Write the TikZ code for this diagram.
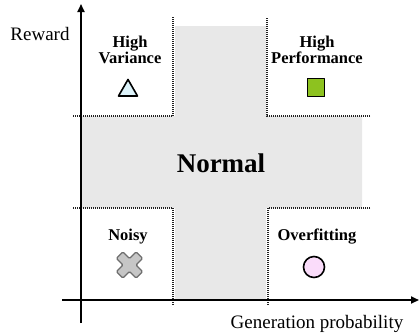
\documentclass[tikz,border=0pt]{standalone}
\usepackage{fontspec}
\setmainfont{Liberation Serif}
\usetikzlibrary{arrows.meta}
\definecolor{bggray}{HTML}{E8E8E8}
\definecolor{tricyan}{HTML}{DDF3FA}
\definecolor{sqgreen}{HTML}{8DC21F}
\definecolor{xfill}{HTML}{C6C6C6}
\definecolor{xedge}{HTML}{6E6E6E}
\definecolor{cpink}{HTML}{FADCFA}
\definecolor{dotgray}{HTML}{202020}
\tikzset{
  quadlabel/.style={font=\fontsize{16.5}{15}\selectfont\bfseries, align=center, inner sep=0pt},
  axislabel/.style={font=\fontsize{19}{21}\selectfont, inner sep=0pt},
  axisline/.style={line width=1.8pt, -{Triangle[length=8pt,width=7pt]}},
  divider/.style={line width=1.1pt, dotgray, dash pattern=on 1pt off 1pt},
  marker/.style={line width=1.6pt, black, line join=round},
}
\begin{document}
\begin{tikzpicture}[x=1pt,y=-1pt]
\useasboundingbox (0,0) rectangle (419,333);
% gray cross region
\fill[bggray] (175,26) -- (266,26) -- (266,116) -- (362,116) -- (362,208) -- (266,208)
  -- (266,300) -- (175,300) -- (175,208) -- (81,208) -- (81,116) -- (175,116) -- cycle;
% dotted dividers
\coordinate (tlA) at (73,116); \coordinate (tlB) at (173,116); \coordinate (tlC) at (173,17);
\coordinate (trA) at (370,116); \coordinate (trB) at (267,116); \coordinate (trC) at (267,17);
\coordinate (blA) at (73,208); \coordinate (blB) at (173,208); \coordinate (blC) at (173,306);
\coordinate (brA) at (370,208); \coordinate (brB) at (268,208); \coordinate (brC) at (268,306);
\draw[divider] (tlA) -- (tlB) -- (tlC);
\draw[divider] (trA) -- (trB) -- (trC);
\draw[divider] (blA) -- (blB) -- (blC);
\draw[divider] (brA) -- (brB) -- (brC);
% axes
\coordinate (yb) at (81,323); \coordinate (yt) at (81,4);
\coordinate (xl) at (62,300); \coordinate (xr) at (419,300);
\draw[axisline] (yb) -- (yt);
\draw[axisline] (xl) -- (xr);
% axis labels
\node[axislabel, anchor=base] (reward) at (40,40) {Reward};
\node[axislabel, anchor=base] (genprob) at (317,328) {Generation probability};
% quadrant labels
\node[quadlabel] (hv) at (130,50) {High\\Variance};
\node[quadlabel] (hp) at (317,50) {High\\Performance};
\node[quadlabel, anchor=base] (noisy) at (128,240.5) {Noisy};
\node[quadlabel, anchor=base] (overfit) at (317,240) {Overfitting};
\node[font=\fontsize{27}{30}\selectfont\bfseries, inner sep=0pt, anchor=base] (normal) at (221,172) {Normal};
% markers
\draw[marker, fill=tricyan] (118.5,96) -- (137.5,96) -- (128,79.5) -- cycle;
\draw[marker, fill=sqgreen] (307.5,78.5) rectangle (324.5,96.5);
\draw[marker, fill=cpink] (314,267) circle (10.5);
\begin{scope}[shift={(129.5,265)}, rotate=45]
\draw[line width=1.3pt, xedge, fill=xfill, rounded corners=1.2pt]
  (4.6,14) -- (4.6,4.6) -- (14,4.6) -- (14,-4.6) -- (4.6,-4.6) -- (4.6,-14) -- (-4.6,-14) -- (-4.6,-4.6)
  -- (-14,-4.6) -- (-14,4.6) -- (-4.6,4.6) -- (-4.6,14) -- cycle;
\end{scope}
\end{tikzpicture}
\end{document}
